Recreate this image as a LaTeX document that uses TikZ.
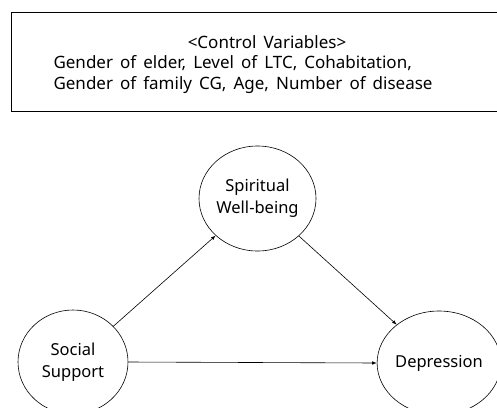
\documentclass[tikz,border=0pt]{standalone}
\usepackage{fontspec}
\setmainfont[WordSpace=1.6]{Noto Sans}
\usetikzlibrary{shapes.geometric}
\begin{document}
\begin{tikzpicture}[x=1pt,y=-1pt, font=\fontsize{16.5}{22}\selectfont,
var/.style={ellipse, draw, line width=0.6pt, minimum width=114pt, minimum height=104pt, inner sep=0pt, align=center},
ctext/.style={font=\fontsize{17}{22}\selectfont},
path/.style={-latex, line width=0.6pt}]
\useasboundingbox (0,0) rectangle (497,407);
\draw[line width=0.6pt] (520,12) -- (11,12) -- (11,111) -- (520,111);
\node[ctext, anchor=center] (ctitle) at (267,42){<Control Variables>};
\node[ctext, anchor=west] (cline1) at (50,63.5){Gender of elder, Level of LTC, Cohabitation,};
\node[ctext, anchor=west] (cline2) at (50,85.5){Gender of family CG, Age, Number of disease};
\node[var, minimum width=117pt, minimum height=105pt] (swb) at (257.5,198.5){Spiritual\\Well-being};
\node[var, minimum width=110pt] (ss) at (73,362){Social\\Support};
\node[var, minimum width=108pt] (dep) at (439,363){Depression};
\draw[path] (ss) -- (swb);
\draw[path] (swb) -- (dep);
\draw[path] (ss.east) -- (dep.west);
\end{tikzpicture}
\end{document}
